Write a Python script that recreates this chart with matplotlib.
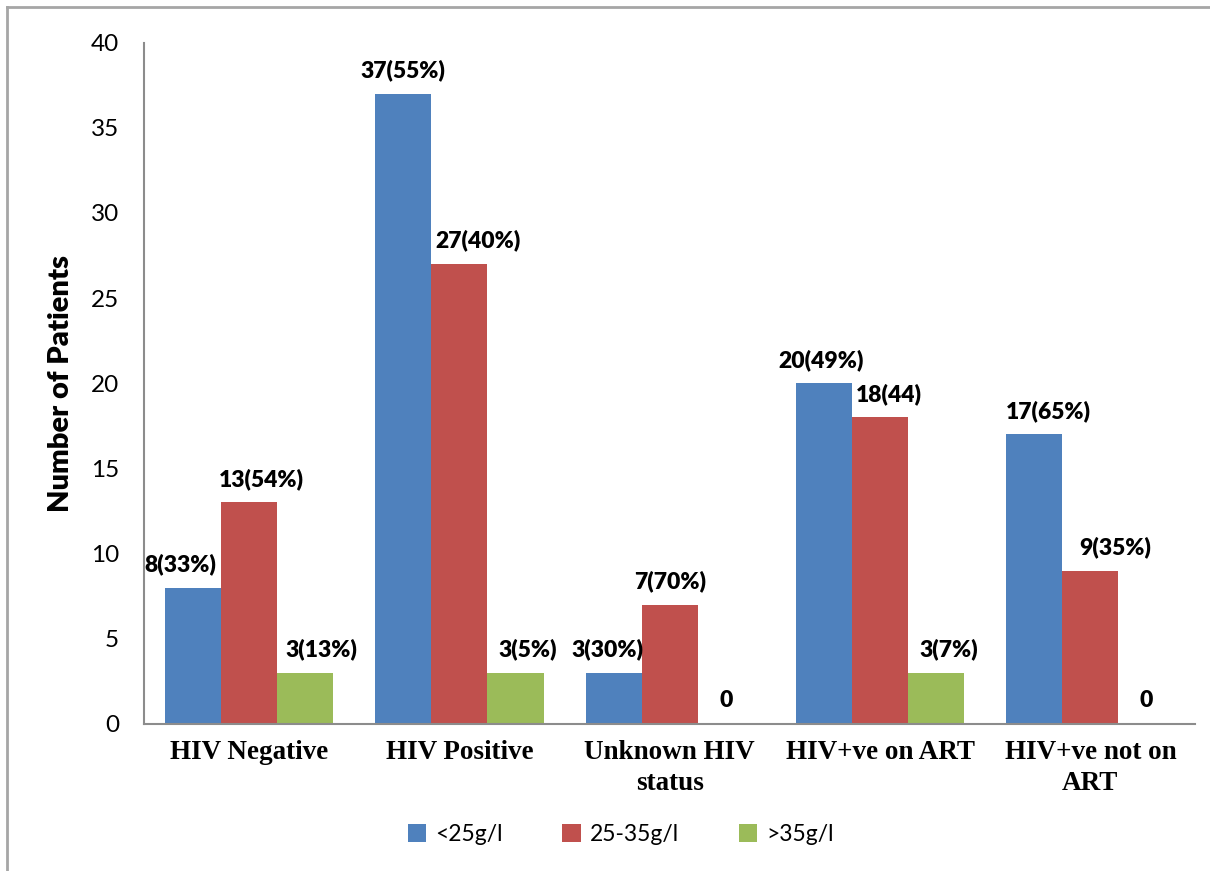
import numpy as np
import matplotlib
matplotlib.use("Agg")
import matplotlib.pyplot as plt
from matplotlib.lines import Line2D

categories = ["HIV Negative", "HIV Positive", "Unknown HIV\nstatus",
              "HIV+ve on ART", "HIV+ve not on\nART"]
series_names = ["<25g/l", "25-35g/l", ">35g/l"]
low = [8, 37, 3, 20, 17]
mid = [13, 27, 7, 18, 9]
high = [3, 3, 0, 3, 0]
low_labels = ["8(33%)", "37(55%)", "3(30%)", "20(49%)", "17(65%)"]
mid_labels = ["13(54%)", "27(40%)", "7(70%)", "18(44)", "9(35%)"]
high_labels = ["3(13%)", "3(5%)", "0", "3(7%)", "0"]

colors = ["#4F81BD", "#C0504D", "#9BBB59"]
# small sideways nudges for the value labels so they don't collide
label_dx = [[-0.06, 0.0, -0.03, -0.015, 0.067],
            [0.06, 0.086, 0.0, 0.043, 0.12],
            [0.075, 0.057, 0.0, 0.06, 0.0]]

fig = plt.figure(figsize=(12.1, 8.71), dpi=100)
ax = fig.add_axes([0.119, 0.169, 0.869, 0.782])

x = np.arange(len(categories))
w = 0.8 / 3
values = [low, mid, high]
labels = [low_labels, mid_labels, high_labels]
for i in range(3):
    pos = x + (i - 1) * w
    ax.bar(pos, values[i], width=w, color=colors[i], label=series_names[i])
    for j in range(len(categories)):
        ax.annotate(labels[i][j], (pos[j] + label_dx[i][j], values[i][j]),
                    xytext=(0, 9), textcoords="offset points",
                    ha="center", va="bottom", fontsize=16.5,
                    fontweight="heavy", family="Lato")

ax.set_xlim(-0.5, len(categories) - 0.5)
ax.set_ylim(0, 40)
ax.set_yticks(range(0, 41, 5))
ax.set_xticks(x)
ax.set_xticklabels(categories, family="Liberation Serif", fontweight="bold",
                   fontsize=19.5, linespacing=1.3)
ax.tick_params(axis="y", length=0, pad=18, labelsize=17.5)
ax.tick_params(axis="x", length=0, pad=12)
for t in ax.get_yticklabels():
    t.set_family("Lato")
ax.set_ylabel("Number of Patients", family="Lato", fontweight="heavy",
              fontsize=21, labelpad=12)
for s in ["top", "right"]:
    ax.spines[s].set_visible(False)
for s in ["left", "bottom"]:
    ax.spines[s].set_color("#8C8C8C")
    ax.spines[s].set_linewidth(1.5)

leg = fig.legend(loc="center", bbox_to_anchor=(0.513, 0.042), ncol=3,
                 frameon=False, prop={"family": "Lato", "size": 16.5},
                 handlelength=0.8, handleheight=0.8, handletextpad=0.4,
                 columnspacing=2.6)

# outer frame lines along the top and left edges
fig.add_artist(Line2D([0.006, 1.0], [0.992, 0.992], color="#A6A6A6", lw=2,
                      transform=fig.transFigure))
fig.add_artist(Line2D([0.006, 0.006], [0.0, 0.992], color="#A6A6A6", lw=2,
                      transform=fig.transFigure))

fig.savefig("out.png", dpi=100)
